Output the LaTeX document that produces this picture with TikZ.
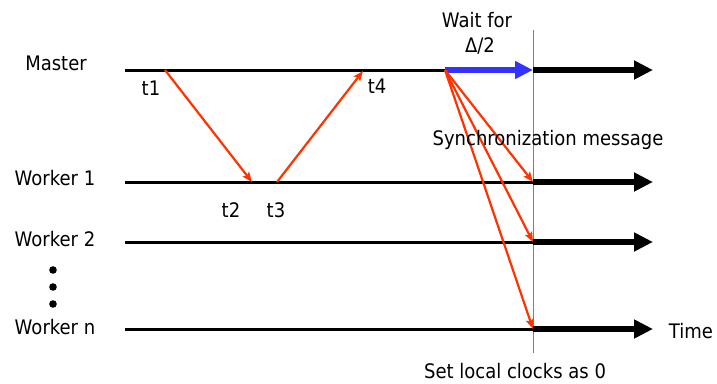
\documentclass[tikz,border=0pt]{standalone}
\usepackage{fontspec}
\setmainfont{DejaVu Sans}[FakeStretch=0.9]
\usetikzlibrary{arrows.meta}
\definecolor{msgred}{RGB}{255,51,0}
\definecolor{waitblue}{RGB}{51,51,255}

\begin{document}
\begin{tikzpicture}[x=1pt, y=-1pt,
    lbl/.style={font=\fontsize{20}{23}\selectfont, inner sep=0pt},
    life/.style={line width=3pt},
    clock/.style={line width=6.5pt, -{Triangle[length=19pt,width=18pt]}},
    msg/.style={msgred, line width=2.2pt, -{Stealth[length=10pt,width=8pt,inset=2pt]}}]
        \useasboundingbox (0,0) rectangle (717,383);

        % Process labels
        \node[lbl] (master) at (56,63) {Master};
        \node[lbl] (w1) at (55,178) {Worker 1};
        \node[lbl] (w2) at (55,239) {Worker 2};
        \node[lbl] (wn) at (55,327) {Worker n};
        \foreach \y in {270,287,304}
            \fill (53,\y) circle (3.8pt);

        % Lifeline end points
        \coordinate (m0) at (125,70);  \coordinate (m1) at (445,70);
        \coordinate (a0) at (125,182); \coordinate (b0) at (125,242); \coordinate (n0) at (125,329);
        \coordinate (ms) at (533,70);  \coordinate (as) at (533,182);
        \coordinate (bs) at (533,242); \coordinate (ns) at (533,329);
        \coordinate (top) at (533,30); \coordinate (bot) at (533,353);

        % Sync instant
        \draw[gray, line width=1pt] (top) -- (bot);

        % Lifelines
        \draw[life] (m0) -- (m1);
        \draw[life] (a0) -- (as);
        \draw[life] (b0) -- (bs);
        \draw[life] (n0) -- (ns);
        \draw[waitblue, line width=6pt, -{Triangle[length=18pt,width=17pt]}] (m1) -- (ms);
        \foreach \p in {ms,as,bs,ns}
            \draw[clock] (\p) -- ++(120,0);

        % Round trip
        \coordinate (t1) at (165,70);  \coordinate (t2) at (252,182);
        \coordinate (t3) at (277,182); \coordinate (t4) at (363,71);
        \draw[msg] (t1) -- (t2);
        \draw[msg] (t3) -- (t4);
        \node[lbl] (t1lbl) at (151,88) {t1};
        \node[lbl] (t2lbl) at (231,210) {t2};
        \node[lbl] (t3lbl) at (276,210) {t3};
        \node[lbl] (t4lbl) at (377,86) {t4};

        % Synchronization messages
        \foreach \p in {as,bs,ns}
            \draw[msg] (m1) -- (\p);

        % Annotations
        \node[lbl] (wait) at (477,20) {Wait for};
        \node[lbl] (half) at (480,46) {Δ/2};
        \node[lbl] (sync) at (548,140) {Synchronization message};
        \node[lbl] (time) at (691,331) {Time};
        \node[lbl] (reset) at (515,371) {Set local clocks as 0};
    \end{tikzpicture}
\end{document}
